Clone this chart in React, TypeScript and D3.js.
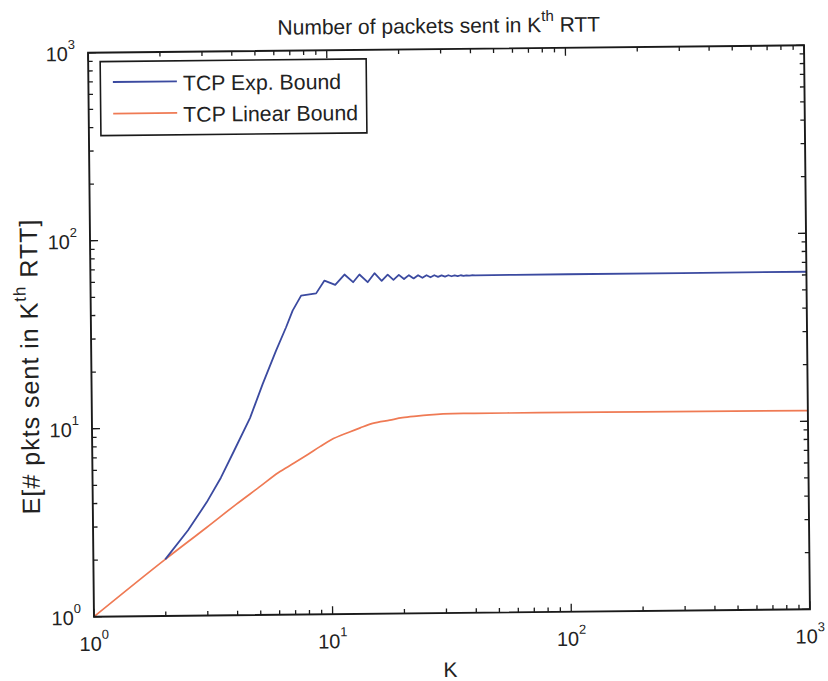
import React from "react";
import * as d3 from "d3";

const kExp = [2, 2.5, 3, 3.45, 3.93, 4.6, 5.21, 5.95, 6.57, 7.01, 7.62, 8.81, 9.56,
  10.6, 11.6, 12.6, 13.4, 14.5, 15.5, 16.6, 17.6, 18.6, 19.6, 20.6, 21.6, 22.6, 23.6, 24.6, 25.6,
  26.6, 27.6, 28.6, 29.6, 30.6, 31.6, 32.6, 33.6, 34.6, 35.6, 36.6, 37.6, 38.6, 39.6,
  41, 60, 100, 300, 1000];
const eExp = [2, 2.85, 4.0, 5.4, 7.5, 11.2, 16.9, 25.4, 33.8, 41.4, 49.7, 51.0, 59.6,
  56.5, 64.0, 58.2, 63.9, 58.1, 64.8, 59.0, 63.6, 59.6, 63.3, 60.1, 63.0, 60.5, 62.9, 60.9, 62.8,
  61.2, 62.7, 61.4, 62.6, 61.6, 62.6, 61.8, 62.5, 61.9, 62.5, 62.0, 62.4, 62.1, 62.4,
  62.3, 62.4, 62.4, 62.4, 62.4];

const kLin = [1, 2, 3, 4, 5, 6, 7, 8, 9, 10, 12, 13.3, 15, 17.7, 20, 22.9, 26, 32.5, 40, 75, 200, 1000];
const eLin = [1, 2, 2.95, 3.9, 4.8, 5.7, 6.4, 7.1, 7.8, 8.45, 9.3, 9.77, 10.3, 10.7, 11.0, 11.2, 11.35, 11.5, 11.5, 11.5, 11.45, 11.4];

const tickExps = [0, 1, 2, 3];
const minorMult = [2, 3, 4, 5, 6, 7, 8, 9];
const seriesNames = ["TCP Exp. Bound", "TCP Linear Bound"];
const seriesColors = ["#3b4aa0", "#ef7a54"];

const W = 828, H = 681;
const L = 91, R = 807, T = 49, B = 613;
const FONT = "'Liberation Sans', Arial, Helvetica, sans-serif";

export default function App() {
  const x = d3.scaleLog().domain([1, 1000]).range([L, R]);
  const y = d3.scaleLog().domain([1, 1000]).range([B, T]);
  const line = d3.line<[number, number]>().x(d => x(d[0])).y(d => y(d[1]));
  const smooth = d3.line<[number, number]>().x(d => x(d[0])).y(d => y(d[1])).curve(d3.curveMonotoneX);
  const expPts = kExp.map((k, i) => [k, eExp[i]] as [number, number]);
  const linPts = kLin.map((k, i) => [k, eLin[i]] as [number, number]);

  const majors = tickExps.map(e => Math.pow(10, e));
  const minors: number[] = [];
  for (let e = 0; e < 3; e++) for (const m of minorMult) minors.push(m * Math.pow(10, e));
  const majLen = 8, minLen = 4.5;
  const tc = "#1a1a1a";

  return (
    <svg width={W} height={H} style={{ position: "absolute", left: 0, top: 0, background: "#fff" }} fontFamily={FONT}>
      <rect x={0} y={0} width={W} height={H} fill="#fff" />
      <g transform="rotate(-0.6 449 331)">
        {/* curves */}
        <path d={smooth(linPts) || ""} fill="none" stroke={seriesColors[1]} strokeWidth={1.7} />
        <path d={line(expPts) || ""} fill="none" stroke={seriesColors[0]} strokeWidth={1.8} strokeLinejoin="round" />

        {/* ticks */}
        {[...majors, ...minors].map((v, i) => {
          const len = majors.includes(v) ? majLen : minLen;
          return (
            <g key={"t" + i} stroke={tc} strokeWidth={1.3}>
              <line x1={x(v)} x2={x(v)} y1={B} y2={B - len} />
              <line x1={x(v)} x2={x(v)} y1={T} y2={T + len} />
              <line x1={L} x2={L + len} y1={y(v)} y2={y(v)} />
              <line x1={R} x2={R - len} y1={y(v)} y2={y(v)} />
            </g>
          );
        })}
        {/* frame */}
        <rect x={L} y={T} width={R - L} height={B - T} fill="none" stroke={tc} strokeWidth={1.9} />

        {/* x tick labels */}
        {tickExps.map(e => (
          <text key={"xl" + e} x={x(Math.pow(10, e))} y={B + 34} textAnchor="middle" fontSize={20} fill="#222">
            10<tspan fontSize={13} dy={-12}>{e}</tspan>
          </text>
        ))}
        {/* y tick labels */}
        {tickExps.map(e => (
          <text key={"yl" + e} x={L - 13} y={y(Math.pow(10, e)) + 8} textAnchor="end" fontSize={20} fill="#222">
            10<tspan fontSize={13} dy={-12}>{e}</tspan>
          </text>
        ))}

        {/* title */}
        <text x={442} y={33} textAnchor="middle" fontSize={21} fill="#222">
          Number of packets sent in K<tspan fontSize={15} dy={-11}>th</tspan><tspan dy={11}> RTT</tspan>
        </text>
        {/* x label */}
        <text x={447} y={677} textAnchor="middle" fontSize={21} fill="#222">K</text>
        {/* y label */}
        <text transform="translate(38,362) rotate(-90)" textAnchor="middle" fontSize={25} letterSpacing={1} fill="#222">
          E[# pkts sent in K<tspan fontSize={17} dy={-12}>th</tspan><tspan dy={12}> RTT]</tspan>
        </text>

        {/* legend */}
        <rect x={103} y={58} width={266} height={74} fill="#fff" stroke={tc} strokeWidth={1.6} />
        {seriesNames.map((n, i) => (
          <g key={"lg" + i}>
            <line x1={115.5} x2={179.5} y1={78.5 + i * 31.6} y2={78.5 + i * 31.6} stroke={seriesColors[i]} strokeWidth={1.8} />
            <text x={185.5} y={87.8 + i * 31.3} fontSize={21.3} fill="#222">{n}</text>
          </g>
        ))}
      </g>
    </svg>
  );
}
